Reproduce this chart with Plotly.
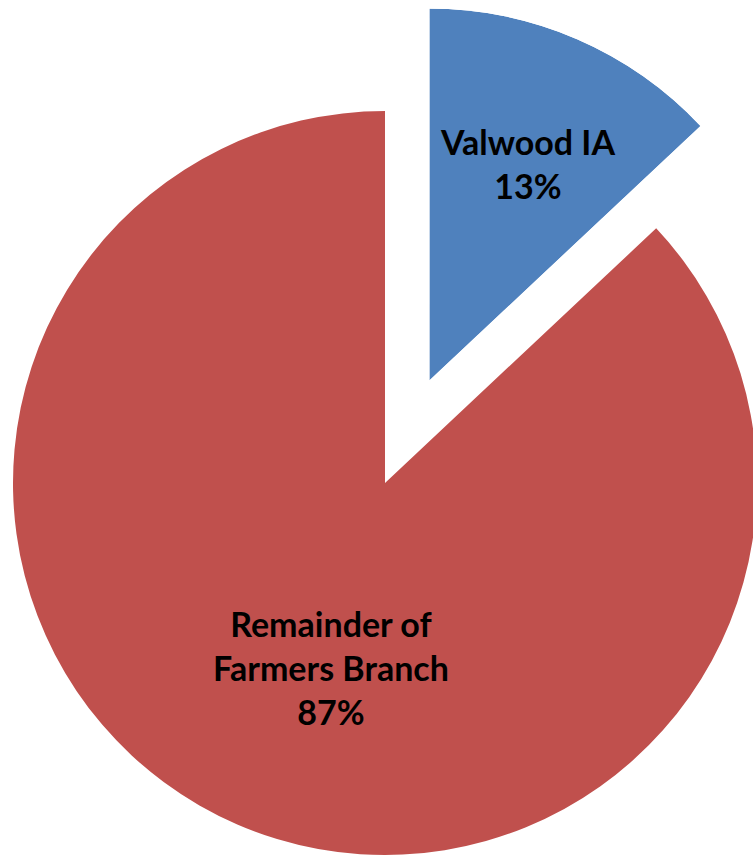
import math
import plotly.graph_objects as go

# ---- data ----
labels = ["Valwood IA", "Remainder of Farmers Branch"]
label_lines = ["Valwood IA", "Remainder of<br>Farmers Branch"]
values = [13, 87]
colors = ["#4F81BD", "#C0504D"]

# ---- geometry / style (pixels) ----
W, H = 762, 860                    # figure slightly larger than window; page clips it
PAGE_OFFSET = 0                    # body margin removed below
cx_px, cy_px = 385.0 - PAGE_OFFSET, 483.0 - PAGE_OFFSET   # pie centre in figure px
R = 372.0                          # pie radius
pull = 0.30                        # pulled-out fraction for the first slice
label_pos = [0.642, 0.517]         # label distance (fraction of R)
label_shift = [1.0, -7.1]          # label angle shift from slice mid-line (deg)
FONT = dict(family="Lato", size=34, color="black", weight="bold")


def clamp(v):
    return min(1.0, max(0.0, v))


total = sum(values)
fracs = [v / total for v in values]
spans = [f * 360 for f in fracs]

# mid angles measured clockwise from 12 o'clock
mids = []
start = 0.0
for s in spans:
    mids.append(start + s / 2)
    start += s

fig = go.Figure()

# remainder: pie trace, Valwood slice transparent (drawn pulled out separately)
fig.add_trace(go.Pie(
    values=values,
    labels=labels,
    sort=False,
    direction="clockwise",
    rotation=0,
    marker=dict(colors=["rgba(0,0,0,0)", colors[1]], line=dict(width=0)),
    textinfo="none",
    hoverinfo="label+percent",
    domain=dict(x=[clamp((cx_px - R) / W), clamp((cx_px + R) / W)],
                y=[clamp((H - cy_px - R) / H), clamp((H - cy_px + R) / H)]),
    showlegend=False,
))

# pulled-out Valwood slice: barpolar wedge in its own polar sector
m0 = math.radians(mids[0])
ax_px = cx_px + pull * R * math.sin(m0)
ay_px = cy_px - pull * R * math.cos(m0)
sec = [90 - spans[0], 90]
bw = max(math.cos(math.radians(sec[0])), math.cos(math.radians(sec[1])), 0)

fig.add_trace(go.Barpolar(
    r=[1],
    theta=[mids[0]],
    width=[spans[0]],
    marker=dict(color=colors[0], line=dict(width=0)),
    name=labels[0],
    hoverinfo="name",
    subplot="polar",
    showlegend=False,
))

fig.update_layout(
    polar=dict(
        domain=dict(x=[clamp(ax_px / W), clamp((ax_px + bw * R) / W)],
                    y=[clamp((H - ay_px) / H), clamp((H - ay_px + R) / H)]),
        sector=sec,
        bgcolor="rgba(0,0,0,0)",
        angularaxis=dict(rotation=90, direction="clockwise", visible=False,
                         showgrid=False, showline=False, ticks=""),
        radialaxis=dict(range=[0, 1], visible=False, showgrid=False,
                        showline=False, ticks=""),
    ),
)

# labels
centers = [(ax_px, ay_px), (cx_px, cy_px)]
annotations = []
for i, (lab, f) in enumerate(zip(label_lines, fracs)):
    m = math.radians(mids[i] + label_shift[i])
    px = centers[i][0] + label_pos[i] * R * math.sin(m)
    py = centers[i][1] - label_pos[i] * R * math.cos(m)
    annotations.append(dict(
        x=px / W, y=1 - py / H, xref="paper", yref="paper",
        text=f"{lab}<br>{round(f * 100)}%",
        showarrow=False, xanchor="center", yanchor="middle",
        font=FONT,
    ))

fig.update_layout(
    width=W, height=H,
    margin=dict(l=0, r=0, t=0, b=0),
    paper_bgcolor="white",
    plot_bgcolor="white",
    showlegend=False,
    annotations=annotations,
)

fig.write_html("out.html",
               config={"displayModeBar": False},
               post_script="document.body.style.margin='0';"
                           "document.documentElement.style.overflow='hidden';"
                           "document.body.style.overflow='hidden';")
